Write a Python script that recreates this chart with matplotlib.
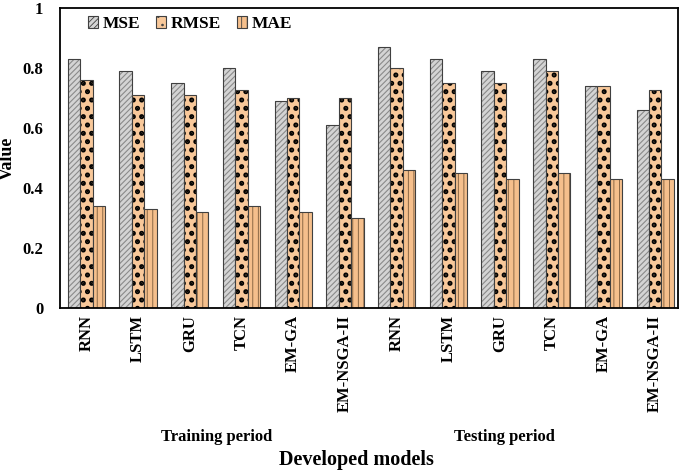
import matplotlib.pyplot as plt
import numpy as np

models = ["RNN", "LSTM", "GRU", "TCN", "EM-GA", "EM-NSGA-II"]
labels = models + models
mse = [0.83, 0.79, 0.75, 0.80, 0.69, 0.61, 0.87, 0.83, 0.79, 0.83, 0.74, 0.66]
rmse = [0.76, 0.71, 0.71, 0.725, 0.70, 0.70, 0.80, 0.75, 0.75, 0.79, 0.74, 0.725]
mae = [0.34, 0.33, 0.32, 0.34, 0.32, 0.30, 0.46, 0.45, 0.43, 0.45, 0.43, 0.43]

plt.rcParams['font.family'] = ['Liberation Serif', 'DejaVu Serif']
plt.rcParams['font.weight'] = 'bold'
plt.rcParams['hatch.linewidth'] = 0.8

fig = plt.figure(figsize=(6.85, 4.70), dpi=100)
ax = fig.add_axes([0.0876, 0.345, 0.902, 0.638])

x = np.arange(len(labels))
w = 0.24

def bars(pos, vals, face, hatch, hcolor, label):
    # hatch drawn in its own colour, then an outline on top
    ax.bar(pos, vals, w, color=face, hatch=hatch, edgecolor=hcolor, linewidth=0)
    ax.bar(pos, vals, w, color='none', edgecolor='#404040', linewidth=0.8)
    return ax.bar([np.nan], [np.nan], w, color=face, hatch=hatch,
                  edgecolor='#404040', linewidth=0.8, label=label)

bars(x - w, mse, '#d4d4d4', '//////', '#8a8a8a', 'MSE')
plt.rcParams['hatch.linewidth'] = 2.4
bars(x, rmse, '#f8c89a', '..', 'black', 'RMSE')
plt.rcParams['hatch.linewidth'] = 0.6
bars(x + w, mae, '#f5bf8c', '|||', '#7a5a3a', 'MAE')

ax.set_xlim(-0.51, 11.44)
ax.set_ylim(0, 1)
ax.set_yticks([0, 0.2, 0.4, 0.6, 0.8, 1])
ax.set_yticklabels(['0', '0.2', '0.4', '0.6', '0.8', '1'])
ax.set_xticks(x)
ax.set_xticklabels(labels, rotation=90)
ax.tick_params(length=0, labelsize=12)
ax.tick_params(axis='x', pad=5)
ax.tick_params(axis='y', pad=12)
for s in ax.spines.values():
    s.set_linewidth(1.3)

ax.set_ylabel('Value', fontsize=13, fontweight='bold')
ax.yaxis.set_label_coords(-0.072, 0.5)
ax.legend(loc='upper left', ncol=3, frameon=False, fontsize=12.5,
          handlelength=0.6, handleheight=0.6, columnspacing=0.9,
          handletextpad=0.25, bbox_to_anchor=(0.02, 1.025))

fig.text(0.316, 0.062, 'Training period', ha='center', fontsize=12, fontweight='bold')
fig.text(0.737, 0.062, 'Testing period', ha='center', fontsize=12, fontweight='bold')
fig.text(0.52, 0.01, 'Developed models', ha='center', fontsize=14.5, fontweight='bold')

fig.savefig('out.png', dpi=100)
